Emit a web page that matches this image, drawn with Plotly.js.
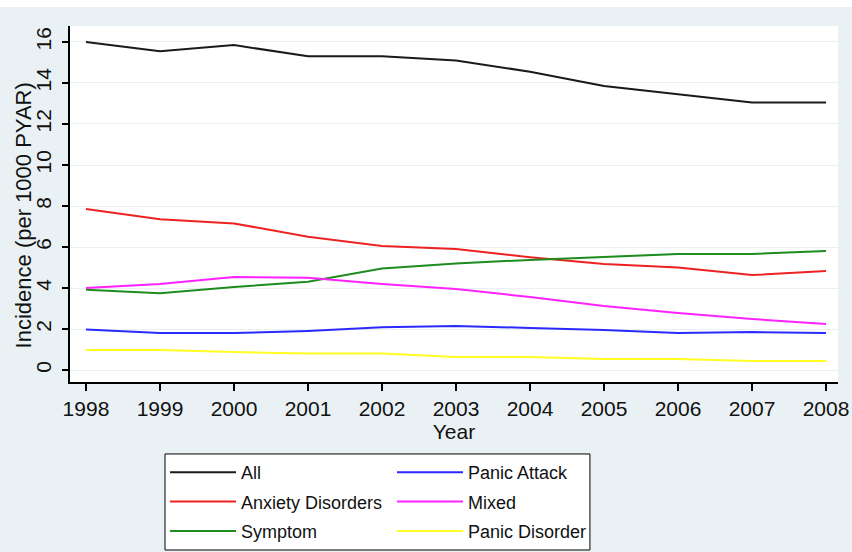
<!DOCTYPE html>
<html>
<head>
<meta charset="utf-8">
<script src="https://cdn.plot.ly/plotly-3.0.1.min.js"></script>
<style>
html,body{margin:0;padding:0;background:#ffffff;}
#chart{width:852px;height:545px;margin-top:7px;}
</style>
</head>
<body>
<div id="chart"></div>
<script>
var years = [1998, 1999, 2000, 2001, 2002, 2003, 2004, 2005, 2006, 2007, 2008];
var allIncidence     = [16.0, 15.55, 15.85, 15.3, 15.3, 15.1, 14.55, 13.85, 13.45, 13.05, 13.05];
var anxietyDisorders = [7.85, 7.35, 7.15, 6.5, 6.05, 5.9, 5.5, 5.17, 5.0, 4.63, 4.83];
var symptom          = [3.92, 3.75, 4.05, 4.3, 4.95, 5.2, 5.37, 5.5, 5.66, 5.66, 5.8];
var panicAttack      = [1.97, 1.8, 1.8, 1.9, 2.08, 2.15, 2.05, 1.95, 1.8, 1.85, 1.8];
var mixed            = [4.0, 4.2, 4.54, 4.5, 4.2, 3.95, 3.56, 3.12, 2.78, 2.49, 2.24];
var panicDisorder    = [0.97, 0.97, 0.88, 0.8, 0.8, 0.63, 0.63, 0.54, 0.54, 0.44, 0.44];
var yTicks = [0, 2, 4, 6, 8, 10, 12, 14, 16];
var xTitle = "Year";
var yTitle = "Incidence (per 1000 PYAR)";
var seriesNames  = ["All", "Anxiety Disorders", "Symptom", "Panic Attack", "Mixed", "Panic Disorder"];
var seriesValues = [allIncidence, anxietyDisorders, symptom, panicAttack, mixed, panicDisorder];
var seriesColors = ["#1a1a1a", "#ee2222", "#1e8c1e", "#2a2aff", "#ff22ff", "#ffff22"];
var seriesLegend = ["legend", "legend", "legend", "legend2", "legend2", "legend2"];

var fontFam = "Liberation Sans, Arial, sans-serif";
var traces = seriesNames.map(function(n, i){
  return {x: years, y: seriesValues[i], name: n, type: "scatter", mode: "lines",
          legend: seriesLegend[i], legendgroup: "g" + i,
          line: {color: seriesColors[i], width: 2}};
});

function legendBox(xc){
  return {
    orientation: "v", xref: "container", yref: "container",
    x: xc, y: 0.1798, xanchor: "left", yanchor: "top",
    bgcolor: "rgba(0,0,0,0)", borderwidth: 0,
    tracegroupgap: 3, itemwidth: 66,
    font: {family: fontFam, size: 18, color: "#111111"}
  };
}

var layout = {
  width: 852, height: 545,
  paper_bgcolor: "#eaf1f4",
  plot_bgcolor: "#ffffff",
  margin: {l: 70, r: 14, t: 19, b: 170, autoexpand: false},
  font: {family: fontFam, size: 21, color: "#111111"},
  showlegend: true,
  legend: legendBox(0.1937),
  legend2: legendBox(0.4601),
  shapes: [{
    type: "rect", xref: "paper", yref: "paper", layer: "below",
    x0: 0.1237, x1: 0.677, y0: -0.2022, y1: -0.4719,
    fillcolor: "#ffffff", line: {color: "#000000", width: 1}
  }],
  annotations: [{
    text: yTitle, xref: "paper", yref: "paper", x: -0.0612, y: 0.468,
    xanchor: "center", yanchor: "middle", textangle: -90, showarrow: false,
    font: {family: fontFam, size: 22, color: "#111111"}
  }],
  xaxis: {
    range: [1997.784, 2008.162],
    tickvals: years, ticktext: years.map(String),
    ticks: "outside", ticklen: 7, tickwidth: 1.5, tickcolor: "#000000",
    showline: true, linecolor: "#000000", linewidth: 2,
    showgrid: false, zeroline: false,
    tickfont: {size: 21},
    title: {text: xTitle, font: {size: 21}, standoff: 0}
  },
  yaxis: {
    range: [-0.585, 16.78],
    tickvals: yTicks, ticktext: yTicks.map(String),
    tickangle: -90, ticklabelstandoff: 3,
    ticks: "outside", ticklen: 6, tickwidth: 1.5, tickcolor: "#000000",
    showline: true, linecolor: "#000000", linewidth: 2,
    showgrid: true, gridcolor: "#eaeff2", gridwidth: 1, zeroline: false,
    tickfont: {size: 21}
  }
};
Plotly.newPlot("chart", traces, layout, {displayModeBar: false, staticPlot: true});
</script>
</body>
</html>
